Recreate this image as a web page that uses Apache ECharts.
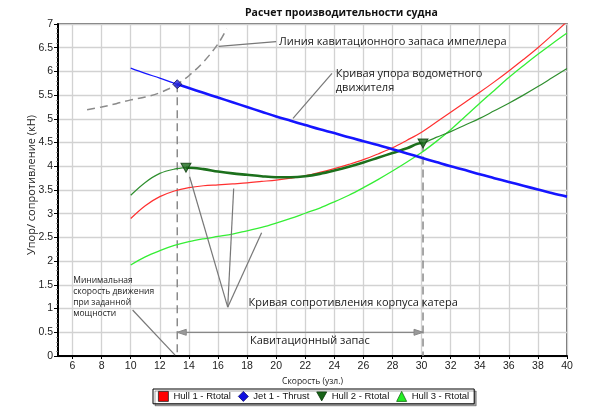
<!DOCTYPE html>
<html>
<head>
<meta charset="utf-8">
<script src="https://cdn.jsdelivr.net/npm/echarts@6/dist/echarts.min.js"></script>
<style>
  html, body { margin: 0; padding: 0; background: #fff; }
  #chart { width: 600px; height: 410px; }
</style>
</head>
<body>
<div id="chart"></div>
<script>
// speed (knots) shared by the hull / jet curves
var speed = [10, 11, 12, 13, 14, 15, 16, 17, 18, 19, 20, 21, 22, 23, 24, 25,
  26, 27, 28, 29, 30, 31, 32, 33, 34, 35, 36, 37, 38, 39, 40];

var hull1 = [2.9, 3.17, 3.36, 3.48, 3.55, 3.59, 3.61, 3.63, 3.65, 3.68, 3.71, 3.75, 3.8, 3.87, 3.95, 4.04,
  4.14, 4.26, 4.39, 4.55, 4.72, 4.93, 5.14, 5.35, 5.56, 5.78, 6.01, 6.25, 6.5, 6.77, 7.05];
var jet1 = [6.07, 5.96, 5.86, 5.75, 5.65, 5.55, 5.45, 5.35, 5.25, 5.15, 5.05, 4.96, 4.87, 4.78, 4.7, 4.61,
  4.53, 4.45, 4.36, 4.27, 4.18, 4.09, 4.0, 3.92, 3.83, 3.75, 3.67, 3.59, 3.51, 3.43, 3.36];
var hull2 = [3.39, 3.66, 3.85, 3.94, 3.97, 3.94, 3.89, 3.85, 3.82, 3.79, 3.77, 3.77, 3.79, 3.84, 3.91, 3.99,
  4.08, 4.18, 4.28, 4.38, 4.49, 4.61, 4.73, 4.87, 5.01, 5.17, 5.33, 5.5, 5.68, 5.87, 6.06];
var hull3 = [1.92, 2.09, 2.22, 2.33, 2.41, 2.47, 2.52, 2.57, 2.64, 2.71, 2.8, 2.9, 3.01, 3.12, 3.25, 3.39,
  3.55, 3.72, 3.9, 4.09, 4.29, 4.52, 4.77, 5.05, 5.33, 5.6, 5.87, 6.12, 6.36, 6.59, 6.81];

// impeller cavitation margin line
var cavSpeed = [7, 8, 9, 10, 11, 12, 13, 13.2, 14, 15, 16, 16.6];
var cavLimit = [5.19, 5.25, 5.32, 5.4, 5.46, 5.55, 5.69, 5.73, 5.91, 6.2, 6.58, 6.9];

// marked points
var thrustPoint = [13.2, 5.73];
var hull2Points = [[13.8, 3.97], [30.1, 4.48]];

var xTicks = [6, 8, 10, 12, 14, 16, 18, 20, 22, 24, 26, 28, 30, 32, 34, 36, 38, 40];

var legendNames = ['Hull 1 - Rtotal', 'Jet 1 - Thrust', 'Hull 2 - Rtotal', 'Hull 3 - Rtotal'];

function pairs(xs, ys) {
  return xs.map(function (x, i) { return [x, ys[i]]; });
}

// part of a curve between two speeds, with the boundary points added
function segment(xs, ys, from, to, extra) {
  var pts = pairs(xs, ys).filter(function (p) { return p[0] > from && p[0] < to; });
  extra.forEach(function (p) {
    if (p[0] >= from && p[0] <= to) pts.push(p);
  });
  xs.forEach(function (x, i) {
    if ((x === from || x === to) && !pts.some(function (p) { return p[0] === x; })) pts.push([x, ys[i]]);
  });
  return pts.sort(function (a, b) { return a[0] - b[0]; });
}

var RED = '#ff3030', BLUE = '#1515ff', DGREEN = '#2f8f2f', DGREEN2 = '#1c701c', LGREEN = '#35ee35';
var DOWN_TRI = 'path://M0,0L10,0L5,9Z';

var chartCont = document.getElementById('chart');
var myChart = echarts.init(chartCont);

var dashed = { color: '#8a8a8a', width: 1.5, type: [8, 5] };
var SMOOTH = 0.35;

option = {
  animation: false,
  backgroundColor: '#fff',
  title: {
    text: 'Расчет производительности судна',
    left: 240, top: 3,
    textStyle: { fontFamily: 'Open Sans', fontSize: 10.5, fontWeight: 'bold', color: '#111' }
  },
  grid: { left: 58, right: 33, top: 24, bottom: 54, show: true, borderColor: '#444', borderWidth: 1.5, outerBoundsMode: 'none' },
  legend: {
    top: 389,
    left: 153,
    orient: 'horizontal',
    borderColor: '#000', borderWidth: 1,
    padding: [2, 5],
    itemGap: 7, itemWidth: 10, itemHeight: 10,
    shadowColor: 'rgba(0,0,0,0.35)', shadowOffsetX: 2, shadowOffsetY: 2,
    backgroundColor: '#fff',
    textStyle: { fontFamily: 'Liberation Sans', fontSize: 9.5, color: '#111' },
    data: [
      { name: legendNames[0], icon: 'rect', itemStyle: { color: '#ff0000', borderColor: '#222', borderWidth: 0.8 } },
      { name: legendNames[1], icon: 'diamond', itemStyle: { color: '#1010e0', borderColor: '#10106a', borderWidth: 0.8 } },
      { name: legendNames[2], icon: DOWN_TRI, itemStyle: { color: '#176317', borderColor: '#0b3b0b', borderWidth: 0.8 } },
      { name: legendNames[3], icon: 'triangle', itemStyle: { color: '#22ee22', borderColor: '#116611', borderWidth: 0.8 } }
    ]
  },
  xAxis: {
    type: 'value', min: 5, max: 40,
    name: 'Скорость (узл.)', nameLocation: 'middle', nameGap: 20,
    nameTextStyle: { fontFamily: 'Open Sans', fontSize: 8.5, color: '#222' },
    axisLine: { lineStyle: { color: '#000', width: 2 } },
    axisTick: { show: true, length: 3, customValues: xTicks, lineStyle: { color: '#000' } },
    axisLabel: { customValues: xTicks, fontFamily: 'Liberation Sans', fontSize: 10.5, color: '#222', margin: 5 },
    splitLine: { show: true, lineStyle: { color: '#d2d2d2', width: 1.3 } }
  },
  yAxis: {
    type: 'value', min: 0, max: 7, interval: 0.5,
    name: 'Упор/ сопротивление (кН)', nameLocation: 'middle', nameGap: 21, nameMoveOverlap: false,
    nameTextStyle: { fontFamily: 'Open Sans', fontSize: 11, color: '#222', padding: [0, 0, 0, 10] },
    axisLine: { show: true, lineStyle: { color: '#000', width: 2 } },
    axisTick: { show: true, length: 4, lineStyle: { color: '#000' } },
    minorTick: { show: true, splitNumber: 5, length: 2, lineStyle: { color: '#888', width: 0.8 } },
    axisLabel: { fontFamily: 'Liberation Sans', fontSize: 10.5, color: '#222', margin: 5 },
    splitLine: { show: true, lineStyle: { color: '#d2d2d2', width: 1.3 } }
  },
  series: [
    {
      name: 'cavitation', type: 'line', data: pairs(cavSpeed, cavLimit), symbol: 'none', smooth: SMOOTH,
      lineStyle: dashed, silent: true, z: 2
    },
    {
      name: 'v1', type: 'line', data: [thrustPoint, [thrustPoint[0], 0]], symbol: 'none',
      lineStyle: dashed, silent: true, z: 2
    },
    {
      name: 'v2', type: 'line', data: [hull2Points[1], [hull2Points[1][0], 0]], symbol: 'none',
      lineStyle: dashed, silent: true, z: 2
    },
    {
      name: legendNames[3], type: 'line', data: pairs(speed, hull3), symbol: 'none', smooth: SMOOTH,
      lineStyle: { color: LGREEN, width: 1.3 }, itemStyle: { color: LGREEN }, z: 3
    },
    {
      name: legendNames[0], type: 'line', data: pairs(speed, hull1), symbol: 'none', smooth: SMOOTH,
      lineStyle: { color: RED, width: 1.2 }, itemStyle: { color: RED }, z: 3
    },
    {
      name: legendNames[2], type: 'line', data: segment(speed, hull2, 10, hull2Points[0][0], hull2Points), symbol: 'none', smooth: SMOOTH,
      lineStyle: { color: DGREEN, width: 1.2 }, itemStyle: { color: DGREEN }, z: 3
    },
    {
      name: legendNames[2], type: 'line', data: segment(speed, hull2, hull2Points[0][0], hull2Points[1][0], hull2Points), symbol: 'none', smooth: SMOOTH,
      lineStyle: { color: DGREEN2, width: 2.6 }, itemStyle: { color: DGREEN2 }, z: 4
    },
    {
      name: legendNames[2], type: 'line', data: segment(speed, hull2, hull2Points[1][0], 40, hull2Points), symbol: 'none', smooth: SMOOTH,
      lineStyle: { color: DGREEN, width: 1.2 }, itemStyle: { color: DGREEN }, z: 3
    },
    {
      name: legendNames[1], type: 'line', data: segment(speed, jet1, 10, thrustPoint[0], [thrustPoint]), symbol: 'none', smooth: SMOOTH,
      lineStyle: { color: BLUE, width: 1.2 }, itemStyle: { color: BLUE }, z: 4
    },
    {
      name: legendNames[1], type: 'line', data: segment(speed, jet1, thrustPoint[0], 40, [thrustPoint]), symbol: 'none', smooth: SMOOTH,
      lineStyle: { color: BLUE, width: 2.6 }, itemStyle: { color: BLUE }, z: 4
    },
    {
      name: legendNames[1], type: 'scatter', data: [thrustPoint], symbol: 'diamond', symbolSize: 9,
      itemStyle: { color: '#2323d8', borderColor: '#111155', borderWidth: 1 }, z: 6
    },
    {
      name: legendNames[2], type: 'scatter', data: hull2Points, symbol: DOWN_TRI, symbolSize: [10, 9],
      itemStyle: { color: '#1a6a1a', borderColor: '#0b3b0b', borderWidth: 1 }, z: 6
    }
  ]
};

myChart.setOption(option);

// annotations, placed in data coordinates
function px(x, y) { return myChart.convertToPixel({ gridIndex: 0 }, [x, y]); }

var textColor = '#1a1a1a';
var leader = { stroke: '#777', lineWidth: 1.2 };

function leaderLine(a, b) {
  var p = px(a[0], a[1]), q = px(b[0], b[1]);
  return { type: 'line', shape: { x1: p[0], y1: p[1], x2: q[0], y2: q[1] }, style: leader, z: 20 };
}
function label(text, at, size, align) {
  var p = px(at[0], at[1]);
  return {
    type: 'text', x: p[0], y: p[1], z: 20,
    style: { text: text, fill: textColor, font: size + 'px "Open Sans"', verticalAlign: 'middle', align: align || 'left', lineHeight: Math.round(size * 1.3) }
  };
}

var arrowA = px(thrustPoint[0], 0.5), arrowB = px(hull2Points[1][0], 0.5);
var hullFoot = [16.67, 1.03];

myChart.setOption({
  graphic: [
    leaderLine([16.05, 6.53], [20.0, 6.63]),
    label('Линия кавитационного запаса импеллера', [20.2, 6.63], 11),
    leaderLine([23.84, 5.96], [21.16, 5.01]),
    label('Кривая упора водометного\nдвижителя', [24.1, 5.8], 11),
    leaderLine(hullFoot, [14.05, 3.78]),
    leaderLine(hullFoot, [17.08, 3.53]),
    leaderLine(hullFoot, [19.0, 2.6]),
    label('Кривая сопротивления корпуса катера', [18.1, 1.12], 11),
    label('Кавитационный запас', [18.2, 0.32], 11),
    label('Минимальная\nскорость движения\nпри заданной\nмощности', [6.05, 1.24], 8.5),
    leaderLine([10.13, 0.97], [13.05, 0.02]),
    {
      type: 'line', z: 20,
      shape: { x1: arrowA[0], y1: arrowA[1], x2: arrowB[0], y2: arrowB[1] },
      style: { stroke: '#888', lineWidth: 1.3 }
    },
    {
      type: 'polygon', z: 21,
      shape: { points: [[arrowA[0], arrowA[1]], [arrowA[0] + 9, arrowA[1] - 3], [arrowA[0] + 9, arrowA[1] + 3]] },
      style: { fill: '#999', stroke: '#888', lineWidth: 1 }
    },
    {
      type: 'polygon', z: 21,
      shape: { points: [[arrowB[0], arrowB[1]], [arrowB[0] - 9, arrowB[1] - 3], [arrowB[0] - 9, arrowB[1] + 3]] },
      style: { fill: '#999', stroke: '#888', lineWidth: 1 }
    }
  ]
});
</script>
</body>
</html>
